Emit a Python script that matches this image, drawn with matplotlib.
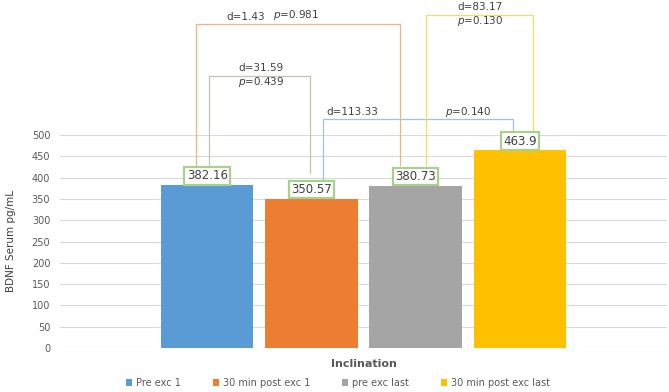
import matplotlib.pyplot as plt

series = ["Pre exc 1", "30 min post exc 1", "pre exc last", "30 min post exc last"]
values = [382.16, 350.57, 380.73, 463.9]
value_labels = ["382.16", "350.57", "380.73", "463.9"]
colors = ["#5b9bd5", "#ed7d31", "#a5a5a5", "#ffc000"]

# comparison brackets: (bar a, bar b, d text, p text)
pairs = [(0, 2, "d=1.43", "0.981"),
         (0, 1, "d=31.59", "0.439"),
         (1, 3, "d=113.33", "0.140"),
         (2, 3, "d=83.17", "0.130")]

fig = plt.figure(figsize=(6.69, 3.92), dpi=100)
ax = fig.add_axes([60 / 669, 44 / 392, 607 / 669, 213 / 392])

x = list(range(len(values)))
bars = ax.bar(x, values, width=0.885, color=colors, zorder=3)

ax.set_ylim(0, 500)
ax.set_xlim(-1.413, 4.413)
ax.set_yticks(range(0, 501, 50))
ax.set_xticks([])
ax.grid(axis="y", color="#d9d9d9", linewidth=0.8, zorder=0)
for s in ax.spines.values():
    s.set_visible(False)
ax.tick_params(axis="y", length=0, labelsize=7, labelcolor="#595959", pad=7)
ax.set_ylabel("BDNF Serum pg/mL", fontsize=7.5, color="#404040", labelpad=11)
ax.set_xlabel("Inclination", fontsize=8, fontweight="bold", color="#595959", labelpad=8)

# value labels in green boxes
for xi, v, lab in zip(x, values, value_labels):
    ax.annotate(lab, (xi, v), xytext=(0, 2), textcoords="offset points",
                ha="center", va="bottom", fontsize=8.5, color="#404040", zorder=5,
                bbox=dict(boxstyle="square,pad=0.2", fc="white", ec="#a9d18e", lw=1.6))

# brackets
bracket_style = [
    dict(color="#f4b183", xa=-0.106, xb=-0.154, top=760, ya=430, yb=430),
    dict(color="#c0c6ae", xa=0.02, xb=-0.01, top=638, ya=430, yb=411),
    dict(color="#9dc3e6", xa=0.115, xb=-0.067, top=537, ya=397, yb=500),
    dict(color="#ffd966", xa=0.096, xb=0.125, top=782, ya=430, yb=500),
]
for (a, b, dtxt, ptxt), st in zip(pairs, bracket_style):
    xa, xb = x[a] + st["xa"], x[b] + st["xb"]
    ax.plot([xa, xa, xb, xb], [st["ya"], st["top"], st["top"], st["yb"]],
            color=st["color"], lw=0.9, clip_on=False, zorder=2)

txt = dict(fontsize=7.5, color="#404040", ha="center", va="center")
ax.text(0.365, 777, "d=1.43", **txt)
ax.text(0.856, 782, r"$\it{p}$=0.981", **txt)
ax.text(0.52, 657, "d=31.59", **txt)
ax.text(0.52, 624, r"$\it{p}$=0.439", **txt)
ax.text(1.394, 554, "d=113.33", **txt)
ax.text(2.5, 554, r"$\it{p}$=0.140", **txt)
ax.text(2.615, 800, "d=83.17", **txt)
ax.text(2.615, 767, r"$\it{p}$=0.130", **txt)

leg = fig.legend(bars, series, loc="center", bbox_to_anchor=(338 / 669, 1 - 383 / 392),
                 ncol=4, frameon=False, fontsize=7, handlelength=0.6, handleheight=0.6,
                 handletextpad=0.4, columnspacing=3.3)
for t in leg.get_texts():
    t.set_color("#595959")

fig.savefig("out.png", dpi=100)
